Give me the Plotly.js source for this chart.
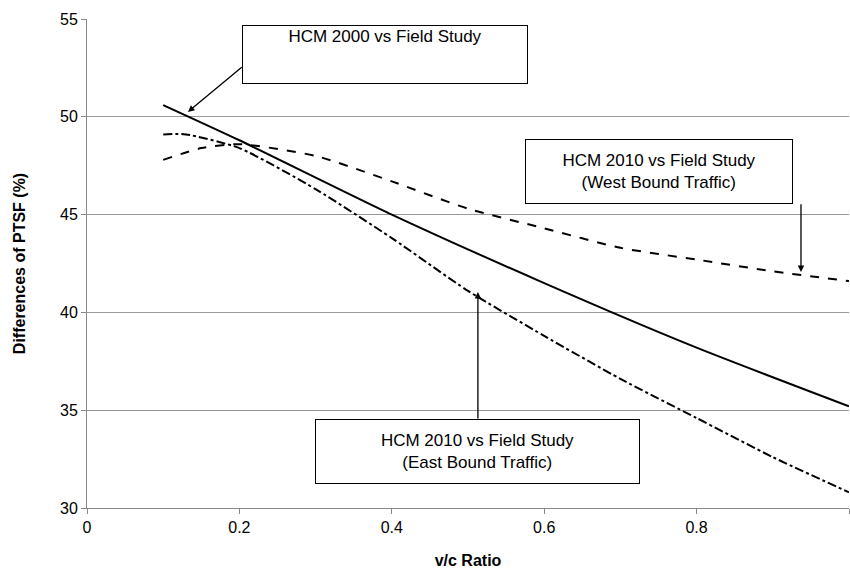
<html><head><script src="https://cdn.plot.ly/plotly-3.0.1.min.js"></script></head><body style="margin:0">
<div id="c" style="width:850px;height:583px"></div>
<script>
const x2000=[0.1,0.2,0.4,0.6,0.8,1.0], y2000=[50.6,48.8,45.0,41.5,38.2,35.2];
const xW=[0.1,0.15,0.2,0.3,0.4,0.5,0.6,0.7,0.8,0.9,1.0];
const yW=[47.8,48.4,48.6,48.0,46.7,45.3,44.3,43.3,42.7,42.1,41.6];
const xE=[0.1,0.13,0.2,0.3,0.4,0.5,0.6,0.7,0.8,0.9,1.0];
const yE=[49.1,49.1,48.4,46.3,43.8,41.1,38.8,36.6,34.6,32.6,30.8];
const ln=(x,y,d)=>({x,y,mode:'lines',line:{color:'#000',width:2,dash:d,shape:'spline',smoothing:0.6},showlegend:false});
const box=(t,x,y,w,h,v)=>({x,y,text:t,showarrow:false,width:w,height:h,valign:v||'middle',bgcolor:'#fff',bordercolor:'#000',borderwidth:1,font:{size:17,color:'#000'}});
const arr=(x,y,ax,ay)=>({x,y,ax,ay,axref:'x',ayref:'y',text:'',showarrow:true,arrowhead:2,arrowsize:1,arrowwidth:1.3,arrowcolor:'#000'});
Plotly.newPlot('c',[ln(x2000,y2000,'solid'),ln(xW,yW,'dash'),ln(xE,yE,'dashdot')],{
 width:850,height:583,margin:{l:87,r:1,t:19,b:75},paper_bgcolor:'#fff',plot_bgcolor:'#fff',
 font:{family:'Liberation Sans, Arial',color:'#000',size:16},
 xaxis:{range:[0,1],dtick:0.2,showgrid:false,zeroline:false,showline:true,linecolor:'#888',ticks:'outside',ticklen:5,tickcolor:'#888',
  title:{text:'<b>v/c Ratio</b>',font:{size:16}}},
 yaxis:{range:[30,55],dtick:5,showgrid:true,gridcolor:'#999',zeroline:false,showline:true,linecolor:'#888',ticks:'outside',ticklen:5,tickcolor:'#888',automargin:false,
  title:{text:'<b>Differences of PTSF (%)</b>',font:{size:16},standoff:30}},
 annotations:[
  arr(0.1325,50.25,0.205,52.6),arr(0.937,42.07,0.937,45.6),arr(0.513,41.04,0.513,34.5),
  box('HCM 2000 vs Field Study',0.391,53.16,282,55,'top'),
  box('HCM 2010 vs Field Study<br>(West Bound Traffic)',0.751,47.18,264,61),
  box('HCM 2010 vs Field Study<br>(East Bound Traffic)',0.513,32.9,321,61)]
},{displayModeBar:false});
</script></body></html>
